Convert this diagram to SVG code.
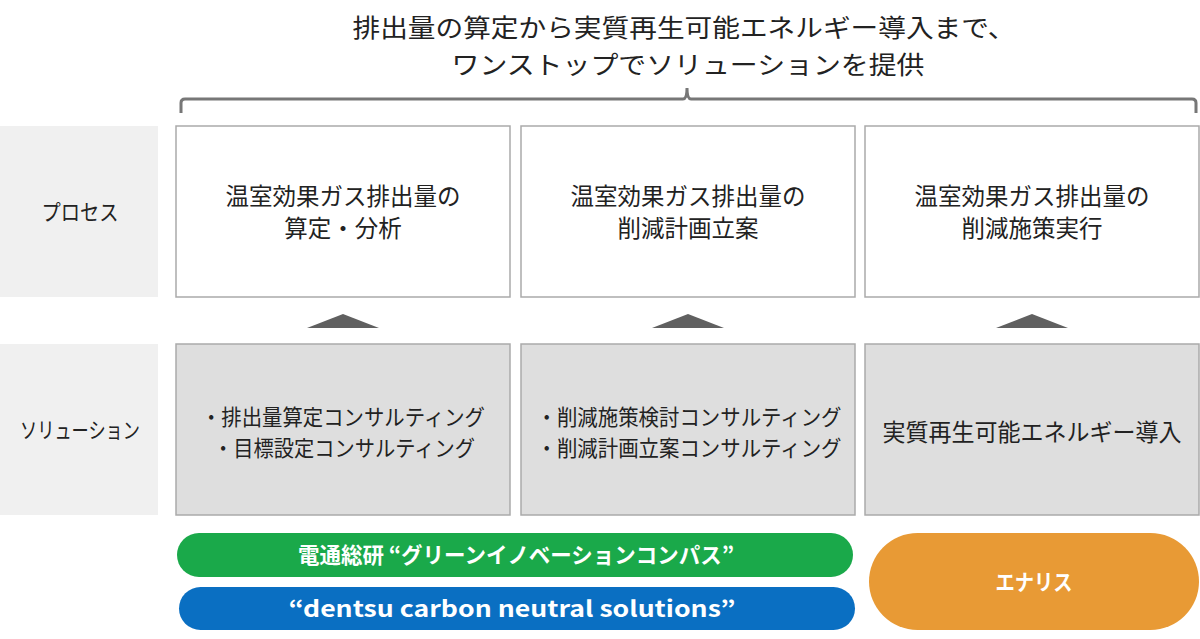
<svg xmlns="http://www.w3.org/2000/svg" width="1200" height="639" viewBox="0 0 1200 639">
<style>
text{font-family:"Noto Sans CJK JP","Noto Sans",sans-serif;text-anchor:middle;fill:#222}
.lbl{fill:#f0f0f0}
.proc{fill:#fff;stroke:#aaa;stroke-width:1.5}
.sol{fill:#dedede;stroke:#aaa;stroke-width:1.5}
.tri{fill:#606060}
.t22{font-size:22px}
.t23{font-size:23.5px}
.pill{font-size:22px;font-weight:bold;fill:#fff}
</style>
<rect width="1200" height="639" fill="#fff"/>
<g id="title">
<text x="684" y="37" font-size="25" textLength="663" lengthAdjust="spacingAndGlyphs">排出量の算定から実質再生可能エネルギー導入まで、</text>
<text x="688" y="74" font-size="25" textLength="473" lengthAdjust="spacingAndGlyphs">ワンストップでソリューションを提供</text>
</g>
<g id="connectors">
<path d="M181,113 V103 Q181,99 185,99 H683 Q687,99 687,88 Q687,99 691,99 H1192 Q1196,99 1196,103 V113" fill="none" stroke="#777" stroke-width="3"/>
<polygon class="tri" points="307,328 343,314 379,328"/>
<polygon class="tri" points="652,328 688,314 724,328"/>
<polygon class="tri" points="996,328 1032,314 1068,328"/>
</g>
<g id="label-process"><rect class="lbl" x="0" y="126" width="158" height="171"/><text class="t22" x="80" y="220" textLength="77" lengthAdjust="spacingAndGlyphs">プロセス</text></g>
<g id="label-solution"><rect class="lbl" x="0" y="344" width="158" height="171"/><text class="t22" x="80" y="438" textLength="120" lengthAdjust="spacingAndGlyphs">ソリューション</text></g>
<g id="process1"><rect class="proc" x="176" y="126" width="334" height="171"/><text class="t23" x="343" y="205">温室効果ガス排出量の</text><text class="t23" x="343" y="237">算定・分析</text></g>
<g id="process2"><rect class="proc" x="521" y="126" width="334" height="171"/><text class="t23" x="688" y="205">温室効果ガス排出量の</text><text class="t23" x="688" y="237">削減計画立案</text></g>
<g id="process3"><rect class="proc" x="865" y="126" width="334" height="171"/><text class="t23" x="1032" y="205">温室効果ガス排出量の</text><text class="t23" x="1032" y="237">削減施策実行</text></g>
<g id="solution1"><rect class="sol" x="176" y="344" width="334" height="171"/><text class="t22" x="343" y="425" textLength="284" lengthAdjust="spacingAndGlyphs">・排出量算定コンサルティング</text><text class="t22" x="344" y="456" textLength="262" lengthAdjust="spacingAndGlyphs">・目標設定コンサルティング</text></g>
<g id="solution2"><rect class="sol" x="521" y="344" width="334" height="171"/><text class="t22" x="689" y="425" textLength="305" lengthAdjust="spacingAndGlyphs">・削減施策検討コンサルティング</text><text class="t22" x="689" y="456" textLength="305" lengthAdjust="spacingAndGlyphs">・削減計画立案コンサルティング</text></g>
<g id="solution3"><rect class="sol" x="865" y="344" width="334" height="171"/><text x="1032" y="441" font-size="23.5" textLength="299" lengthAdjust="spacingAndGlyphs">実質再生可能エネルギー導入</text></g>
<g id="pill-green"><rect x="177" y="533" width="676" height="44" rx="22" fill="#1aa94a"/><text class="pill" x="516" y="563" textLength="436" lengthAdjust="spacingAndGlyphs">電通総研 “グリーンイノベーションコンパス”</text></g>
<g id="pill-blue"><rect x="179" y="587" width="676" height="43" rx="21.5" fill="#0a6fc2"/><text class="pill" x="512" y="617" font-size="25" textLength="447" lengthAdjust="spacingAndGlyphs">“dentsu carbon neutral solutions”</text></g>
<g id="pill-orange"><rect x="869" y="533" width="330" height="97" rx="48.5" fill="#e89a35"/><text class="pill" x="1034" y="590" textLength="77" lengthAdjust="spacingAndGlyphs">エナリス</text></g>
</svg>
